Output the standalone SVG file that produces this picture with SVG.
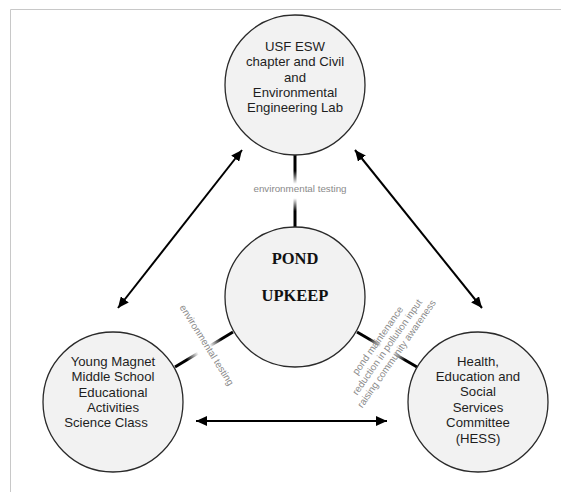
<svg xmlns="http://www.w3.org/2000/svg" width="561" height="492" viewBox="0 0 561 492">
<style>
.node circle{fill:#f2f2f2;stroke:#2a2a2a;stroke-width:1.3}
.nt{font-family:"Liberation Sans",Arial,sans-serif;font-size:13.2px;fill:#1e1e1e;text-anchor:middle}
.ct{font-family:"Liberation Serif","Times New Roman",serif;font-size:16.5px;font-weight:bold;fill:#111;text-anchor:middle}
.lbl{font-family:"Liberation Sans",Arial,sans-serif;font-size:9.8px;fill:#8a8a8a;text-anchor:middle}
.arr{stroke:#000;stroke-width:2;fill:none;marker-start:url(#ah);marker-end:url(#ah)}
.link{stroke-width:3;fill:none}
</style>
<defs>
<marker id="ah" markerUnits="userSpaceOnUse" markerWidth="12" markerHeight="10" refX="11" refY="5" orient="auto-start-reverse">
<path d="M0,0 L11,5 L0,10 z" fill="#000"/>
</marker>
<linearGradient id="gTop" gradientUnits="userSpaceOnUse" x1="295" y1="155" x2="295" y2="227">
<stop offset="0" stop-color="#000"/><stop offset="0.22" stop-color="#000"/><stop offset="0.4" stop-color="#000" stop-opacity="0"/><stop offset="0.6" stop-color="#000" stop-opacity="0"/><stop offset="0.78" stop-color="#000"/><stop offset="1" stop-color="#000"/>
</linearGradient>
<linearGradient id="gLeft" gradientUnits="userSpaceOnUse" x1="175" y1="367" x2="233" y2="332">
<stop offset="0" stop-color="#000"/><stop offset="0.2" stop-color="#000"/><stop offset="0.4" stop-color="#000" stop-opacity="0"/><stop offset="0.6" stop-color="#000" stop-opacity="0"/><stop offset="0.8" stop-color="#000"/><stop offset="1" stop-color="#000"/>
</linearGradient>
<linearGradient id="gRight" gradientUnits="userSpaceOnUse" x1="357" y1="332" x2="417" y2="367">
<stop offset="0" stop-color="#000"/><stop offset="0.2" stop-color="#000"/><stop offset="0.4" stop-color="#000" stop-opacity="0"/><stop offset="0.6" stop-color="#000" stop-opacity="0"/><stop offset="0.8" stop-color="#000"/><stop offset="1" stop-color="#000"/>
</linearGradient>
</defs>
<rect width="561" height="492" fill="#fff"/>
<path d="M10.5,492 V9.5 H561" fill="none" stroke="#c8c8c8" stroke-width="1"/>
<g id="connectors">
<line class="arr" x1="118" y1="308" x2="242" y2="150"/>
<line class="arr" x1="355" y1="150" x2="482" y2="308"/>
<line class="arr" x1="196" y1="421" x2="387" y2="421"/>
<line class="link" x1="295" y1="155" x2="295" y2="227" stroke="url(#gTop)"/>
<line class="link" x1="175" y1="367" x2="233" y2="332" stroke="url(#gLeft)"/>
<line class="link" x1="357" y1="332" x2="417" y2="367" stroke="url(#gRight)"/>
<text class="lbl" x="300" y="192">environmental testing</text>
<text class="lbl" transform="translate(207,345) rotate(58)" y="3.5">environmental testing</text>
<g transform="translate(387,347) rotate(-55)">
<text class="lbl" y="-8">pond maintenance</text>
<text class="lbl" y="3.5">reduction in pollution input</text>
<text class="lbl" y="15">raising community awareness</text>
</g>
</g>
<g id="node-usf" class="node">
<circle cx="295" cy="85" r="70"/>
<text class="nt" x="295" y="51">USF ESW</text>
<text class="nt" x="295" y="66.3">chapter and Civil</text>
<text class="nt" x="295" y="81.6">and</text>
<text class="nt" x="295" y="96.9">Environmental</text>
<text class="nt" x="295" y="112.2">Engineering Lab</text>
</g>
<g id="node-pond" class="node">
<circle cx="295" cy="297" r="70"/>
<text class="ct" x="295" y="264">POND</text>
<text class="ct" x="295" y="301">UPKEEP</text>
</g>
<g id="node-school" class="node">
<circle cx="113" cy="402" r="70"/>
<text class="nt" x="113" y="366">Young Magnet</text>
<text class="nt" x="113" y="381.3">Middle School</text>
<text class="nt" x="113" y="396.6">Educational</text>
<text class="nt" x="113" y="411.9">Activities</text>
<text class="nt" x="106" y="427.2">Science Class</text>
</g>
<g id="node-hess" class="node">
<circle cx="478" cy="402" r="70"/>
<text class="nt" x="478" y="365.5">Health,</text>
<text class="nt" x="478" y="380.9">Education and</text>
<text class="nt" x="478" y="396.3">Social</text>
<text class="nt" x="478" y="411.7">Services</text>
<text class="nt" x="478" y="427.1">Committee</text>
<text class="nt" x="478" y="442.5">(HESS)</text>
</g>
</svg>
